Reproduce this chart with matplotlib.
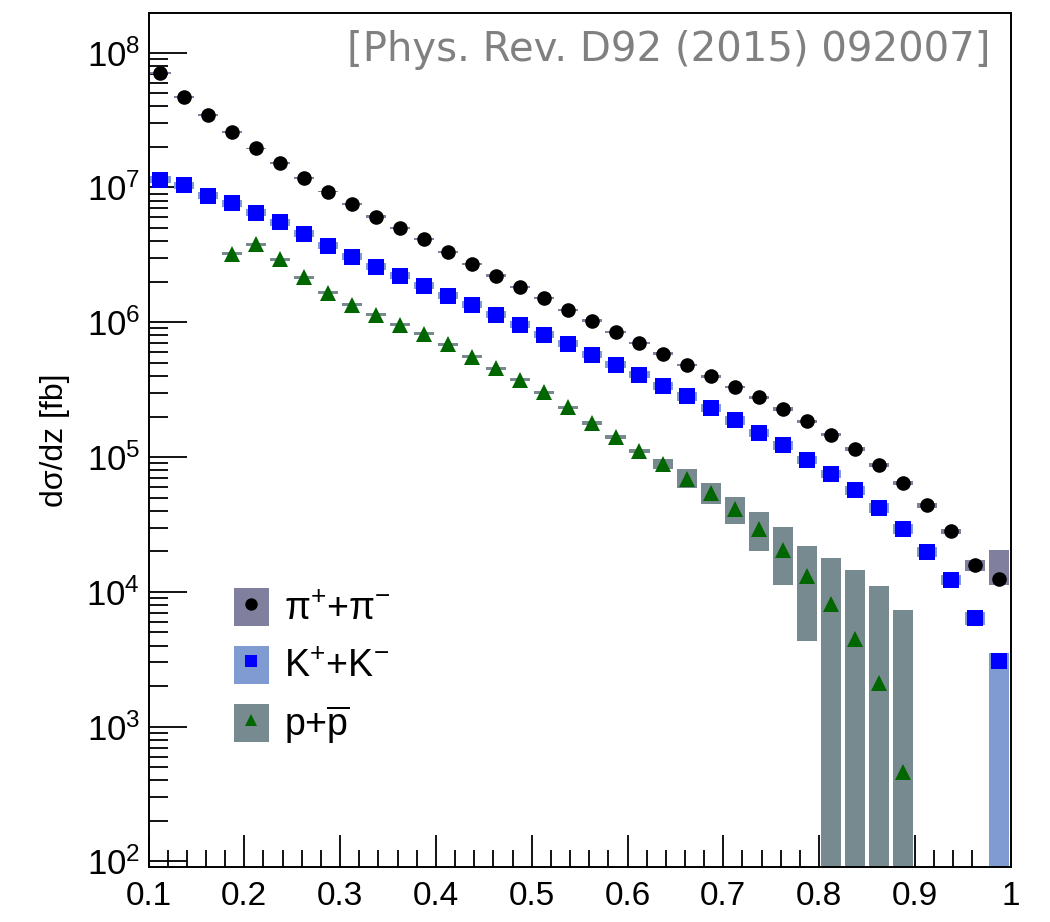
import numpy as np
import matplotlib
matplotlib.use("Agg")
import matplotlib.pyplot as plt
from matplotlib.ticker import FixedLocator, MultipleLocator, LogLocator, FuncFormatter
from matplotlib.patches import Patch
from matplotlib.lines import Line2D
from matplotlib.legend_handler import HandlerTuple

plt.rcParams['font.family'] = ['Liberation Sans', 'DejaVu Sans']
plt.rcParams['mathtext.fontset'] = 'custom'
plt.rcParams['mathtext.rm'] = 'Liberation Sans'
plt.rcParams['mathtext.it'] = 'Liberation Sans:italic'
plt.rcParams['mathtext.bf'] = 'Liberation Sans:bold'

# ---------------- data ----------------
z = [0.1125, 0.1375, 0.1625, 0.1875, 0.2125, 0.2375, 0.2625, 0.2875, 0.3125,
     0.3375, 0.3625, 0.3875, 0.4125, 0.4375, 0.4625, 0.4875, 0.5125, 0.5375,
     0.5625, 0.5875, 0.6125, 0.6375, 0.6625, 0.6875, 0.7125, 0.7375, 0.7625,
     0.7875, 0.8125, 0.8375, 0.8625, 0.8875, 0.9125, 0.9375, 0.9625, 0.9875]

pion = [7.1e7, 4.67e7, 3.45e7, 2.57e7, 1.95e7, 1.51e7, 1.17e7, 9.33e6, 7.56e6,
        6.08e6, 4.99e6, 4.14e6, 3.31e6, 2.70e6, 2.22e6, 1.82e6, 1.51e6, 1.24e6,
        1.03e6, 8.45e5, 7.01e5, 5.85e5, 4.82e5, 3.99e5, 3.31e5, 2.77e5, 2.28e5,
        1.84e5, 1.47e5, 1.15e5, 8.79e4, 6.38e4, 4.38e4, 2.81e4, 1.57e4, 1.25e4]
pion_rel_lo = [0.015, 0.015, 0.015, 0.015, 0.015, 0.015, 0.015, 0.015, 0.02,
               0.02, 0.02, 0.02, 0.02, 0.02, 0.02, 0.02, 0.02, 0.02,
               0.02, 0.02, 0.02, 0.025, 0.025, 0.025, 0.025, 0.025, 0.03,
               0.03, 0.03, 0.03, 0.035, 0.035, 0.04, 0.045, 0.095, 0.10]
pion_rel_hi = [0.015, 0.015, 0.015, 0.015, 0.015, 0.015, 0.015, 0.015, 0.02,
               0.02, 0.02, 0.02, 0.02, 0.02, 0.02, 0.02, 0.02, 0.02,
               0.02, 0.02, 0.02, 0.025, 0.025, 0.025, 0.025, 0.025, 0.03,
               0.03, 0.03, 0.03, 0.035, 0.035, 0.04, 0.045, 0.09, 0.65]

kaon = [1.14e7, 1.04e7, 8.71e6, 7.65e6, 6.52e6, 5.50e6, 4.53e6, 3.71e6, 3.07e6,
        2.59e6, 2.21e6, 1.87e6, 1.58e6, 1.35e6, 1.14e6, 9.59e5, 8.08e5, 6.93e5,
        5.74e5, 4.84e5, 4.08e5, 3.38e5, 2.82e5, 2.31e5, 1.87e5, 1.51e5, 1.22e5,
        9.58e4, 7.50e4, 5.66e4, 4.20e4, 2.93e4, 1.98e4, 1.23e4, 6.41e3, 3.06e3]
kaon_rel_lo = [0.06, 0.06, 0.06, 0.06, 0.06, 0.06, 0.06, 0.06, 0.06,
               0.06, 0.06, 0.06, 0.06, 0.06, 0.06, 0.06, 0.06, 0.06,
               0.06, 0.06, 0.06, 0.07, 0.07, 0.07, 0.07, 0.07, 0.07,
               0.07, 0.07, 0.08, 0.08, 0.08, 0.08, 0.09, 0.12, 1.0]
kaon_rel_hi = [0.06, 0.06, 0.06, 0.06, 0.06, 0.06, 0.06, 0.06, 0.06,
               0.06, 0.06, 0.06, 0.06, 0.06, 0.06, 0.06, 0.06, 0.06,
               0.06, 0.06, 0.06, 0.07, 0.07, 0.07, 0.07, 0.07, 0.07,
               0.07, 0.07, 0.08, 0.08, 0.08, 0.08, 0.09, 0.11, 0.155]

nan = float('nan')
proton = [nan, nan, nan, 3.22e6, 3.80e6, 2.94e6, 2.16e6, 1.66e6, 1.35e6,
          1.14e6, 9.59e5, 8.22e5, 6.89e5, 5.57e5, 4.57e5, 3.75e5, 3.02e5, 2.35e5,
          1.79e5, 1.41e5, 1.11e5, 8.93e4, 6.9e4, 5.42e4, 4.12e4, 2.93e4, 2.03e4,
          1.31e4, 8.19e3, 4.49e3, 2.12e3, 4.6e2, nan, nan, nan, nan]
proton_rel_lo = [nan, nan, nan, 0.025, 0.025, 0.025, 0.025, 0.025, 0.025,
                 0.025, 0.025, 0.025, 0.025, 0.025, 0.025, 0.025, 0.025, 0.025,
                 0.03, 0.03, 0.035, 0.09, 0.15, 0.175, 0.22, 0.31, 0.45,
                 0.67, 1.0, 1.0, 1.0, 1.0, nan, nan, nan, nan]
proton_rel_hi = [nan, nan, nan, 0.025, 0.025, 0.025, 0.025, 0.025, 0.025,
                 0.025, 0.025, 0.025, 0.025, 0.025, 0.025, 0.025, 0.025, 0.025,
                 0.03, 0.03, 0.035, 0.085, 0.18, 0.19, 0.23, 0.33, 0.48,
                 0.68, 1.16, 2.25, 4.2, 15.0, nan, nan, nan, nan]

labels = ["π$^{+}$+π$^{-}$", "K$^{+}$+K$^{-}$", "p+$\\overline{\\mathrm{p}}$"]
marker_colors = ["#000000", "#0000ff", "#006600"]
box_colors = ["#807f9d", "#7f9bd2", "#778a90"]
markers = ["o", "s", "^"]
marker_sizes = [10.5, 11, 11]

x_ticks = [0.1, 0.2, 0.3, 0.4, 0.5, 0.6, 0.7, 0.8, 0.9, 1.0]
x_ticklabels = ["0.1", "0.2", "0.3", "0.4", "0.5", "0.6", "0.7", "0.8", "0.9", "1"]
y_ticks = [1e2, 1e3, 1e4, 1e5, 1e6, 1e7, 1e8]
ylabel = "dσ/dz [fb]"
citation = "[Phys. Rev. D92 (2015) 092007]"

# ---------------- figure ----------------
W, H = 1050, 922
fig = plt.figure(figsize=(W / 100, H / 100), dpi=100)
ax = fig.add_axes([148.5 / W, 1 - 867 / H, (1010.7 - 148.5) / W, (867 - 13) / H])

ymin, ymax = 91, 1.97e8
bin_w = 0.021

series = [(pion, pion_rel_lo, pion_rel_hi),
          (kaon, kaon_rel_lo, kaon_rel_hi),
          (proton, proton_rel_lo, proton_rel_hi)]

zz = np.array(z)
for i, (vals, rlo, rhi) in enumerate(series):
    v = np.array(vals)
    lo = v * (1 - np.array(rlo))
    hi = v * (1 + np.array(rhi))
    lo = np.where(lo <= 0, ymin * 0.5, lo)
    ok = ~np.isnan(v)
    ax.bar(zz[ok], (hi - lo)[ok], bottom=lo[ok], width=bin_w, color=box_colors[i],
           edgecolor='none', linewidth=0, zorder=2)
for i, (vals, rlo, rhi) in enumerate(series):
    v = np.array(vals)
    ok = ~np.isnan(v)
    ax.plot(zz[ok], v[ok], linestyle='none', marker=markers[i], color=marker_colors[i],
            markersize=marker_sizes[i], markeredgewidth=0, zorder=4)

ax.set_yscale('log')
ax.set_xlim(0.1, 1.0)
ax.set_ylim(ymin, ymax)

ax.xaxis.set_major_locator(FixedLocator(x_ticks))
ax.xaxis.set_minor_locator(MultipleLocator(0.02))
ax.set_xticklabels(x_ticklabels)
ax.yaxis.set_major_locator(FixedLocator(y_ticks))
ax.yaxis.set_minor_locator(LogLocator(base=10, subs=np.arange(2, 10), numticks=50))
ax.yaxis.set_major_formatter(FuncFormatter(lambda y, p: "$10^{%d}$" % round(np.log10(y))))
ax.yaxis.set_minor_formatter(FuncFormatter(lambda y, p: ""))

ax.tick_params(axis='both', which='both', direction='in', top=False, right=False,
               color='black', width=1.3)
ax.tick_params(axis='x', which='major', length=23, pad=10, labelsize=24)
ax.tick_params(axis='x', which='minor', length=12)
ax.tick_params(axis='y', which='major', length=27, pad=6, labelsize=25)
ax.tick_params(axis='y', which='minor', length=14)
for s in ax.spines.values():
    s.set_linewidth(1.4)
    s.set_color('black')

ax.set_ylabel(ylabel, fontsize=23, labelpad=12)

ax.text(0.976, 0.98, citation, transform=ax.transAxes, ha='right', va='top',
        fontsize=29, color='#808080', family=['DejaVu Sans'])

handles = []
for i in range(3):
    handles.append((Patch(facecolor=box_colors[i], edgecolor='none'),
                    Line2D([], [], linestyle='none', marker=markers[i],
                           color=marker_colors[i], markersize=marker_sizes[i] * 0.85,
                           markeredgewidth=0)))
leg = ax.legend(handles, labels, handler_map={tuple: HandlerTuple(ndivide=1, pad=0)},
                loc='upper left', bbox_to_anchor=((234 - 148.5) / 862.2, (867 - 588) / 854),
                frameon=False, fontsize=27, handlelength=0.93, handleheight=1.18,
                labelspacing=0.48, handletextpad=0.4, borderpad=0, borderaxespad=0)

fig.savefig("out.png", dpi=100)
